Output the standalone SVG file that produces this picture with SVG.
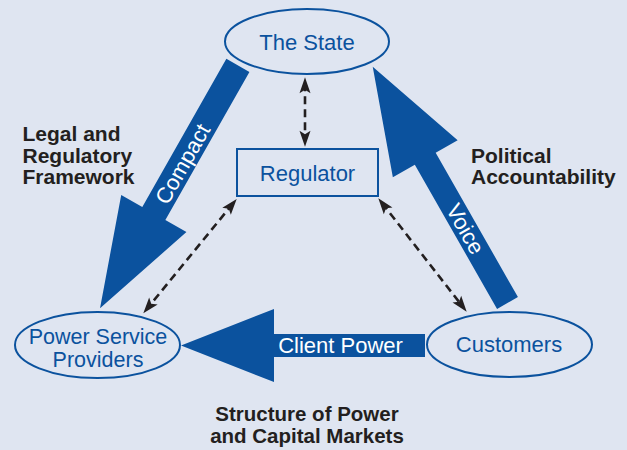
<svg xmlns="http://www.w3.org/2000/svg" width="627" height="450" viewBox="0 0 627 450">
  <defs>
    <style>
      .node { fill: none; stroke: #0b529e; stroke-width: 2; }
      .nlabel { font-family: "Liberation Sans", Arial, sans-serif; font-size: 22px; fill: #0b529e; text-anchor: middle; }
      .alabel { font-family: "Liberation Sans", Arial, sans-serif; font-size: 22px; fill: #ffffff; text-anchor: middle; }
      .side { font-family: "Liberation Sans", Arial, sans-serif; font-size: 21px; font-weight: bold; fill: #231f20; }
      .flow { fill: #0b529e; }
      .dash { stroke: #231f20; stroke-width: 2.6; stroke-dasharray: 8 5; fill: none; }
    </style>
    <marker id="head" viewBox="-11 -6 18 12" refX="0" refY="0" markerWidth="18" markerHeight="12" markerUnits="userSpaceOnUse" orient="auto-start-reverse" overflow="visible">
      <path d="M6,0 L-10,-5.5 L-6.5,0 L-10,5.5 Z" fill="#231f20"/>
    </marker>
  </defs>

  <rect width="627" height="450" fill="#dfe5f1"/>

  <!-- broad flow arrows and dashed regulatory links -->
  <g id="connectors">
    <g id="compact">
      <polygon class="flow" transform="translate(237.9,65.4) rotate(119.58)" points="0,-13.25 170.3,-13.25 170.3,-37.5 279.3,0 170.3,37.5 170.3,13.25 0,13.25"/>
      <text class="alabel" transform="translate(182.7,164) rotate(-60.42)" x="0" y="7.5">Compact</text>
    </g>
    <g id="voice">
      <polygon class="flow" transform="translate(507.5,303) rotate(-119.7)" points="0,-12 166,-12 166,-37.3 272,0 166,37.3 166,12 0,12"/>
      <text class="alabel" transform="translate(465.3,229) rotate(60.3)" x="0" y="7.5">Voice</text>
    </g>
    <g id="client-power">
      <polygon class="flow" points="425,334 274,334 274,309 181,345.5 274,382 274,357 425,357"/>
      <text class="alabel" x="340.5" y="353">Client Power</text>
    </g>
    <line class="dash" x1="305" y1="83.3" x2="305" y2="140.7" marker-start="url(#head)" marker-end="url(#head)"/>
    <line class="dash" x1="232.9" y1="203.6" x2="147.1" y2="308.7" marker-start="url(#head)" marker-end="url(#head)"/>
    <line class="dash" x1="382" y1="203" x2="463" y2="307" marker-start="url(#head)" marker-end="url(#head)"/>
  </g>

  <g id="the-state">
    <ellipse class="node" cx="307" cy="41.5" rx="82" ry="32.5"/>
    <text class="nlabel" x="307" y="50">The State</text>
  </g>

  <g id="regulator">
    <rect class="node" x="237" y="149" width="141" height="47"/>
    <text class="nlabel" x="307.5" y="181">Regulator</text>
  </g>

  <g id="power-service-providers">
    <ellipse class="node" cx="97.5" cy="345" rx="82.5" ry="33"/>
    <text class="nlabel" x="98" y="344" style="font-size:21.5px">Power Service</text>
    <text class="nlabel" x="98" y="367" style="font-size:21.5px">Providers</text>
  </g>

  <g id="customers">
    <ellipse class="node" cx="509.5" cy="344.5" rx="82.5" ry="32.5"/>
    <text class="nlabel" x="509" y="352">Customers</text>
  </g>

  <g id="legal-framework">
    <text class="side" x="22.5" y="141">Legal and</text>
    <text class="side" x="22.5" y="162.5">Regulatory</text>
    <text class="side" x="22.5" y="184">Framework</text>
  </g>

  <g id="political-accountability">
    <text class="side" x="471" y="163">Political</text>
    <text class="side" x="471" y="184">Accountability</text>
  </g>

  <g id="market-structure">
    <text class="side" x="307" y="421" text-anchor="middle" style="font-size:20.5px">Structure of Power</text>
    <text class="side" x="307" y="442.5" text-anchor="middle" style="font-size:20.5px">and Capital Markets</text>
  </g>
</svg>
